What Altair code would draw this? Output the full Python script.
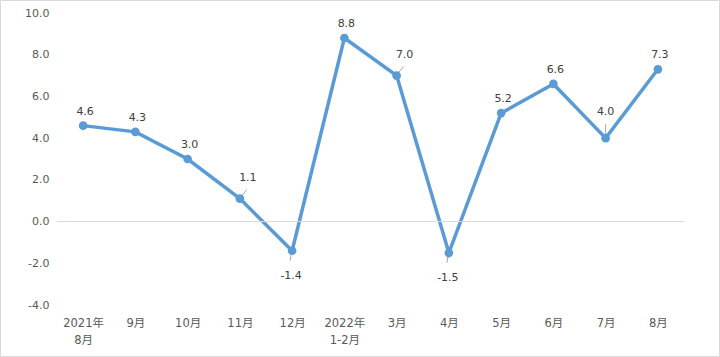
import altair as alt
import pandas as pd

categories = ["2021年\n8月", "9月", "10月", "11月", "12月", "2022年\n1-2月",
              "3月", "4月", "5月", "6月", "7月", "8月"]
values = [4.6, 4.3, 3.0, 1.1, -1.4, 8.8, 7.0, -1.5, 5.2, 6.6, 4.0, 7.3]
label_pos = ["up", "up", "up", "upright", "down", "up", "upright", "down", "up", "up", "upleader", "up"]
y_ticks = [-4, -2, 0, 2, 4, 6, 8, 10]

df = pd.DataFrame({"cat": categories, "value": values, "pos": label_pos,
                   "order": list(range(len(categories)))})

FONT = "DejaVu Sans, Noto Sans CJK SC"
LINE = "#5B9BD5"
YDOM = [-4, 10]

x = alt.X("cat:N", sort=categories, title=None,
          scale=alt.Scale(type="point", padding=0.5),
          axis=alt.Axis(labelExpr="split(datum.label, '\\n')", labelAngle=0,
                        domain=False, ticks=False, labelPadding=12,
                        labelFontSize=11.5, labelColor="#595959", labelFont=FONT,
                        labelLineHeight=17))
yaxis = alt.Axis(values=y_ticks, format=".1f", grid=False, domain=False,
                 labelExpr="replace(datum.label, '\u2212', '-')",
                 ticks=False, labelPadding=8, labelFontSize=11,
                 labelColor="#595959", labelFont=FONT)
y = alt.Y("value:Q", title=None, scale=alt.Scale(domain=YDOM), axis=yaxis)

base = alt.Chart(df).transform_calculate(
    lbl="replace(format(datum.value, '.1f'), '\u2212', '-')")

line = base.mark_line(color=LINE, strokeWidth=3.5).encode(x=x, y=y, order="order:Q")

zero = base.transform_filter("datum.order == 0").transform_calculate(z="0").mark_rule(
    color="#d9d9d9", strokeWidth=1).encode(
    y=alt.Y("z:Q", title=None, scale=alt.Scale(domain=YDOM), axis=yaxis))

pts = base.mark_circle(color=LINE, size=75, opacity=1).encode(x=x, y=y)

txt_style = dict(font=FONT, fontSize=11, color="#404040")
up = base.transform_filter("datum.pos == 'up'").mark_text(dy=-14, dx=2, **txt_style).encode(
    x=x, y=y, text="lbl:N")
upright = base.transform_filter("datum.pos == 'upright'").mark_text(dy=-21, dx=8, **txt_style).encode(
    x=x, y=y, text="lbl:N")
upleader = base.transform_filter("datum.pos == 'upleader'").mark_text(dy=-26, dx=0, **txt_style).encode(
    x=x, y=y, text="lbl:N")
down = base.transform_filter("datum.pos == 'down'").mark_text(dy=25, dx=-1, **txt_style).encode(
    x=x, y=y, text="lbl:N")

x2 = alt.X2("cat:N")
y2 = alt.Y2("value:Q")
lead_ur = base.transform_filter("datum.pos == 'upright'").mark_rule(
    color="#a6a6a6", strokeWidth=1, xOffset=2, x2Offset=7, yOffset=-3, y2Offset=-9).encode(
    x=x, x2=x2, y=y, y2=y2)
lead_d = base.transform_filter("datum.pos == 'down'").mark_rule(
    color="#a6a6a6", strokeWidth=1, xOffset=-1, x2Offset=-2, yOffset=4, y2Offset=10).encode(
    x=x, x2=x2, y=y, y2=y2)
lead_u = base.transform_filter("datum.pos == 'upleader'").mark_rule(
    color="#a6a6a6", strokeWidth=1, xOffset=0, x2Offset=0, yOffset=-4, y2Offset=-14).encode(
    x=x, x2=x2, y=y, y2=y2)

border = alt.Chart(pd.DataFrame({"b": [0]})).mark_rect(
    fill=None, stroke="#d9d9d9", strokeWidth=1).encode(
    x=alt.value(-56.5), x2=alt.value(662.5), y=alt.value(-12.5), y2=alt.value(343.5))

chart = alt.layer(line, zero, border, lead_ur, lead_d, lead_u, pts, up, upright, upleader, down).properties(
    width=627, height=292,
    autosize=alt.AutoSizeParams(type="none"),
    padding={"left": 57, "top": 13, "right": 36, "bottom": 52},
    background="white",
).configure_view(stroke=None)

chart.save("out.html", embed_options={"renderer": "svg", "actions": False})
